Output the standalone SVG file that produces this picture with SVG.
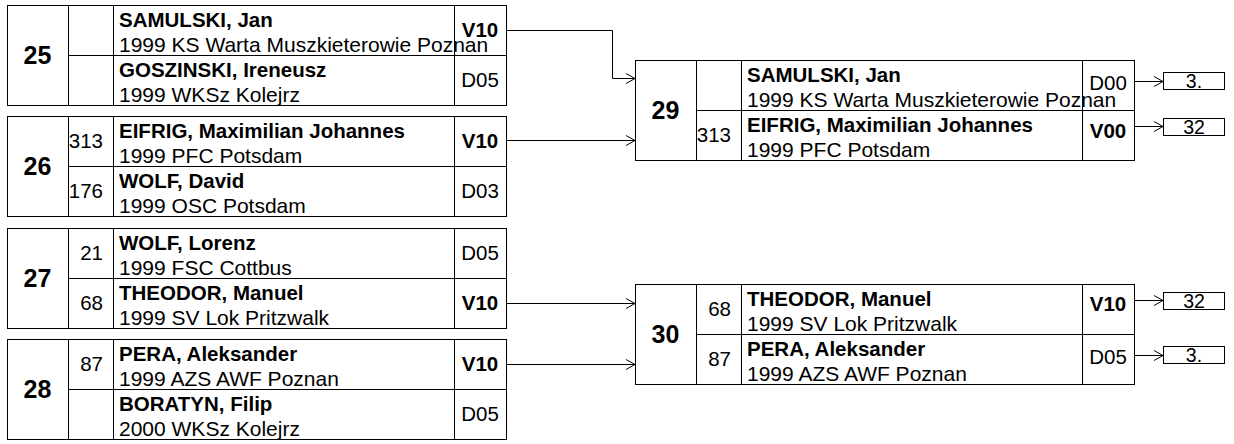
<svg xmlns="http://www.w3.org/2000/svg" width="1234" height="444" viewBox="0 0 1234 444">
<style>
text{font-family:"Liberation Sans",Arial,sans-serif;fill:#000}
.num{font-size:25px;font-weight:bold;text-anchor:middle}
.nm{font-size:20.5px;font-weight:bold}
.cl{font-size:21px}
.sd{font-size:20.5px;text-anchor:end}
.sc{font-size:20.5px;text-anchor:middle}
.w{font-weight:bold}
.res{font-size:19.5px;text-anchor:middle}
.box{fill:#fff;stroke:#000;stroke-width:1}
.ln{stroke:#000;stroke-width:1;fill:none}
.con{stroke:#000;stroke-width:1;fill:none;marker-end:url(#ar)}
</style>
<defs>
<marker id="ar" markerUnits="userSpaceOnUse" markerWidth="11" markerHeight="12" refX="9" refY="5" orient="auto" overflow="visible">
<path d="M0,0 L9,5 L0,10" fill="none" stroke="#000" stroke-width="1"/>
</marker>
</defs>
<rect width="1234" height="444" fill="#fff"/>

<g id="connectors">
<path class="con" d="M506,30.5 H612.5 V78.5 H635"/>
<path class="con" d="M506,140.5 H635"/>
<path class="con" d="M506,303.5 H635"/>
<path class="con" d="M506,364.5 H635"/>
<path class="con" d="M1134,81.5 H1163"/>
<path class="con" d="M1134,126.5 H1163"/>
<path class="con" d="M1134,300.5 H1163"/>
<path class="con" d="M1134,355.5 H1163"/>
</g>

<g id="match25">
<rect class="box" x="7.5" y="5.5" width="499" height="100"/>
<path class="ln" d="M68.5,5.5 V105.5 M113.5,5.5 V105.5 M454.5,5.5 V105.5 M68.5,55.5 H506.5"/>
<text class="num" x="37.5" y="64">25</text>
<text class="nm" x="119" y="27">SAMULSKI, Jan</text>
<text class="cl" x="119" y="52">1999 KS Warta Muszkieterowie Poznan</text>
<text class="sc w" x="480" y="37">V10</text>
<text class="nm" x="119" y="77">GOSZINSKI, Ireneusz</text>
<text class="cl" x="119" y="102">1999 WKSz Kolejrz</text>
<text class="sc" x="480" y="87">D05</text>
</g>

<g id="match26">
<rect class="box" x="7.5" y="116.5" width="499" height="100"/>
<path class="ln" d="M68.5,116.5 V216.5 M113.5,116.5 V216.5 M454.5,116.5 V216.5 M68.5,166.5 H506.5"/>
<text class="num" x="37.5" y="175">26</text>
<text class="sd" x="103" y="148">313</text>
<text class="nm" x="119" y="138">EIFRIG, Maximilian Johannes</text>
<text class="cl" x="119" y="163">1999 PFC Potsdam</text>
<text class="sc w" x="480" y="148">V10</text>
<text class="sd" x="103" y="198">176</text>
<text class="nm" x="119" y="188">WOLF, David</text>
<text class="cl" x="119" y="213">1999 OSC Potsdam</text>
<text class="sc" x="480" y="198">D03</text>
</g>

<g id="match27">
<rect class="box" x="7.5" y="228.5" width="499" height="100"/>
<path class="ln" d="M68.5,228.5 V328.5 M113.5,228.5 V328.5 M454.5,228.5 V328.5 M68.5,278.5 H506.5"/>
<text class="num" x="37.5" y="287">27</text>
<text class="sd" x="103" y="260">21</text>
<text class="nm" x="119" y="250">WOLF, Lorenz</text>
<text class="cl" x="119" y="275">1999 FSC Cottbus</text>
<text class="sc" x="480" y="260">D05</text>
<text class="sd" x="103" y="310">68</text>
<text class="nm" x="119" y="300">THEODOR, Manuel</text>
<text class="cl" x="119" y="325">1999 SV Lok Pritzwalk</text>
<text class="sc w" x="480" y="310">V10</text>
</g>

<g id="match28">
<rect class="box" x="7.5" y="339.5" width="499" height="100"/>
<path class="ln" d="M68.5,339.5 V439.5 M113.5,339.5 V439.5 M454.5,339.5 V439.5 M68.5,389.5 H506.5"/>
<text class="num" x="37.5" y="398">28</text>
<text class="sd" x="103" y="371">87</text>
<text class="nm" x="119" y="361">PERA, Aleksander</text>
<text class="cl" x="119" y="386">1999 AZS AWF Poznan</text>
<text class="sc w" x="480" y="371">V10</text>
<text class="nm" x="119" y="411">BORATYN, Filip</text>
<text class="cl" x="119" y="436">2000 WKSz Kolejrz</text>
<text class="sc" x="480" y="421">D05</text>
</g>

<g id="match29">
<rect class="box" x="635.5" y="60.5" width="499" height="100"/>
<path class="ln" d="M696.5,60.5 V160.5 M741.5,60.5 V160.5 M1082.5,60.5 V160.5 M696.5,110.5 H1134.5"/>
<text class="num" x="665.5" y="119">29</text>
<text class="nm" x="747" y="82">SAMULSKI, Jan</text>
<text class="cl" x="747" y="107">1999 KS Warta Muszkieterowie Poznan</text>
<text class="sc" x="1108" y="90">D00</text>
<text class="sd" x="731" y="142">313</text>
<text class="nm" x="747" y="132">EIFRIG, Maximilian Johannes</text>
<text class="cl" x="747" y="157">1999 PFC Potsdam</text>
<text class="sc w" x="1108" y="138">V00</text>
</g>

<g id="match30">
<rect class="box" x="635.5" y="284.5" width="499" height="100"/>
<path class="ln" d="M696.5,284.5 V384.5 M741.5,284.5 V384.5 M1082.5,284.5 V384.5 M696.5,334.5 H1134.5"/>
<text class="num" x="665.5" y="343">30</text>
<text class="sd" x="731" y="316">68</text>
<text class="nm" x="747" y="306">THEODOR, Manuel</text>
<text class="cl" x="747" y="331">1999 SV Lok Pritzwalk</text>
<text class="sc w" x="1108" y="311">V10</text>
<text class="sd" x="731" y="366">87</text>
<text class="nm" x="747" y="356">PERA, Aleksander</text>
<text class="cl" x="747" y="381">1999 AZS AWF Poznan</text>
<text class="sc" x="1108" y="364">D05</text>
</g>

<g id="result29a"><rect class="box" x="1163.5" y="72.5" width="61" height="17"/><text class="res" x="1194" y="88">3.</text></g>
<g id="result29b"><rect class="box" x="1163.5" y="118.5" width="61" height="17"/><text class="res" x="1194" y="134">32</text></g>
<g id="result30a"><rect class="box" x="1163.5" y="292.5" width="61" height="17"/><text class="res" x="1194" y="308">32</text></g>
<g id="result30b"><rect class="box" x="1163.5" y="346.5" width="61" height="17"/><text class="res" x="1194" y="362">3.</text></g>
</svg>
